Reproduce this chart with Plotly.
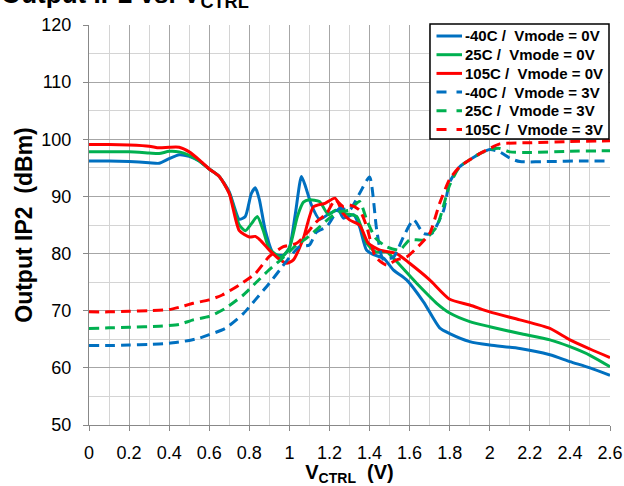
import plotly.graph_objects as go

# ---- data ----
x_b0 = [0, 0.1, 0.2, 0.3, 0.35, 0.4, 0.45, 0.5, 0.55, 0.6, 0.65, 0.7, 0.75, 0.78, 0.81, 0.83, 0.85, 0.88, 0.92, 0.97, 1.0, 1.03, 1.06, 1.08, 1.11, 1.15, 1.2, 1.245, 1.27, 1.32, 1.35, 1.385, 1.42, 1.47, 1.52, 1.585, 1.67, 1.75, 1.8, 1.9, 2.0, 2.15, 2.3, 2.4, 2.5, 2.6]
y_b0 = [96.2, 96.2, 96.1, 95.9, 95.8, 96.6, 97.3, 97.0, 96.2, 94.8, 93.5, 90.8, 86.0, 86.5, 90.5, 91.5, 89.5, 84.0, 80.0, 79.7, 81.0, 87.0, 93.5, 91.8, 88.5, 86.0, 87.0, 87.6, 86.2, 86.8, 84.7, 80.6, 79.8, 79.2, 77.1, 75.4, 71.5, 67.0, 66.0, 64.6, 64.0, 63.4, 62.3, 61.1, 60.0, 58.7]

x_g0 = [0, 0.1, 0.2, 0.3, 0.35, 0.4, 0.45, 0.5, 0.55, 0.6, 0.65, 0.7, 0.75, 0.78, 0.81, 0.84, 0.87, 0.9, 0.96, 1.0, 1.04, 1.07, 1.1, 1.15, 1.195, 1.23, 1.28, 1.336, 1.386, 1.43, 1.485, 1.535, 1.635, 1.735, 1.8, 1.9, 2.0, 2.15, 2.3, 2.4, 2.5, 2.6]
y_g0 = [97.8, 97.8, 97.8, 97.6, 97.5, 97.9, 97.8, 97.2, 96.2, 94.8, 93.5, 90.6, 85.0, 84.0, 85.2, 86.5, 84.0, 80.8, 79.4, 81.0, 86.5, 89.0, 89.4, 89.1, 86.8, 87.6, 87.0, 86.5, 81.8, 80.3, 80.3, 78.6, 74.8, 71.3, 69.6, 68.1, 67.2, 66.0, 64.9, 63.7, 62.2, 60.2]

x_r0 = [0, 0.1, 0.2, 0.3, 0.35, 0.4, 0.45, 0.5, 0.55, 0.6, 0.65, 0.7, 0.75, 0.8, 0.83, 0.853, 0.9, 0.95, 0.986, 1.02, 1.07, 1.12, 1.178, 1.228, 1.269, 1.3, 1.35, 1.394, 1.452, 1.535, 1.6, 1.7, 1.8, 1.9, 2.0, 2.15, 2.3, 2.4, 2.5, 2.6]
y_r0 = [99.1, 99.1, 99.0, 98.8, 98.5, 98.6, 98.6, 97.8, 96.4, 94.8, 93.5, 90.5, 84.0, 82.9, 83.0, 82.4, 80.6, 79.0, 78.3, 78.9, 82.7, 88.2, 88.8, 89.7, 87.0, 85.9, 85.0, 81.8, 80.6, 80.0, 78.3, 75.4, 72.0, 71.0, 69.8, 68.4, 66.9, 64.9, 63.3, 61.8]

x_b3 = [0, 0.1, 0.2, 0.3, 0.4, 0.5, 0.55, 0.6, 0.68, 0.77, 0.83, 0.9, 0.96, 1.0, 1.05, 1.1, 1.136, 1.186, 1.25, 1.3, 1.35, 1.40, 1.436, 1.468, 1.52, 1.57, 1.62, 1.67, 1.71, 1.77, 1.8, 1.85, 1.9, 1.95, 2.0, 2.05, 2.1, 2.15, 2.3, 2.45, 2.6]
y_b3 = [63.9, 63.9, 64.0, 64.1, 64.3, 64.8, 65.2, 65.8, 66.9, 69.5, 71.9, 74.8, 77.5, 79.3, 81.2, 81.5, 83.8, 84.7, 87.9, 87.6, 90.5, 93.4, 84.1, 79.0, 79.4, 83.0, 85.9, 83.5, 83.5, 87.6, 92.5, 95.2, 96.4, 97.5, 98.2, 97.8, 96.7, 96.1, 96.1, 96.2, 96.2]

x_g3 = [0, 0.1, 0.2, 0.35, 0.45, 0.52, 0.6, 0.68, 0.77, 0.83, 0.9, 0.96, 1.036, 1.086, 1.152, 1.2, 1.25, 1.3, 1.35, 1.386, 1.43, 1.485, 1.55, 1.6, 1.67, 1.735, 1.8, 1.85, 1.9, 1.95, 2.0, 2.05, 2.1, 2.2, 2.4, 2.6]
y_g3 = [66.9, 67.0, 67.1, 67.3, 67.6, 68.4, 69.0, 70.4, 72.75, 74.8, 77.2, 79.0, 81.5, 82.7, 84.7, 86.2, 87.3, 87.6, 89.1, 85.9, 82.7, 81.2, 80.6, 82.4, 82.4, 84.7, 92.0, 95.2, 96.4, 97.5, 98.2, 98.4, 97.8, 97.7, 97.9, 98.0]

x_r3 = [0, 0.1, 0.2, 0.3, 0.4, 0.45, 0.52, 0.6, 0.665, 0.75, 0.83, 0.9, 0.97, 1.036, 1.086, 1.136, 1.186, 1.228, 1.27, 1.3, 1.35, 1.386, 1.43, 1.485, 1.535, 1.585, 1.65, 1.7, 1.75, 1.8, 1.85, 1.9, 1.95, 2.0, 2.05, 2.2, 2.4, 2.6]
y_r3 = [69.8, 69.8, 69.9, 70.0, 70.2, 70.6, 71.3, 71.9, 72.75, 74.5, 76.5, 79.5, 81.2, 81.8, 83.5, 85.6, 87.0, 89.4, 88.2, 88.5, 87.6, 84.7, 79.4, 78.0, 78.9, 79.4, 81.5, 83.5, 88.8, 93.0, 95.2, 96.4, 97.5, 98.4, 99.2, 99.4, 99.6, 99.75]

series_names = ["-40C /  Vmode = 0V", "25C /  Vmode = 0V", "105C /  Vmode = 0V",
                "-40C /  Vmode = 3V", "25C /  Vmode = 3V", "105C /  Vmode = 3V"]
x_ticks = [0, 0.2, 0.4, 0.6, 0.8, 1, 1.2, 1.4, 1.6, 1.8, 2, 2.2, 2.4, 2.6]
x_tick_labels = ["0", "0.2", "0.4", "0.6", "0.8", "1", "1.2", "1.4", "1.6", "1.8", "2", "2.2", "2.4", "2.6"]
y_ticks = [50, 60, 70, 80, 90, 100, 110, 120]

BLUE, GREEN, RED = "#0070C0", "#00B050", "#FF0000"
FONT = "Liberation Sans, Arial, sans-serif"
DASH = "10px,6px"

fig = go.Figure()
series = [(x_b0, y_b0, BLUE, "solid"), (x_g0, y_g0, GREEN, "solid"), (x_r0, y_r0, RED, "solid"),
          (x_b3, y_b3, BLUE, DASH), (x_g3, y_g3, GREEN, DASH), (x_r3, y_r3, RED, DASH)]
for (xs, ys, c, d), name in zip(series, series_names):
    fig.add_trace(go.Scatter(x=xs, y=ys, mode="lines", name=name, showlegend=False,
                             line=dict(color=c, width=3, dash=d, shape="spline", smoothing=0.6)))

# ---- legend box (drawn as shapes/annotations to match the compact Excel legend) ----
L, T = 89, 25
PW, PH = 521, 400
def px(xp):
    return (xp - L) / PW
def py(yp):
    return 1 - (yp - T) / PH

fig.add_shape(type="rect", xref="paper", yref="paper",
              x0=px(430), x1=px(609), y0=py(24), y1=py(139),
              line=dict(color="black", width=1.5), fillcolor="white", layer="above")
row0, step = 36.0, 18.7
for i, ((xs, ys, c, d), name) in enumerate(zip(series, series_names)):
    yy = row0 + i * step
    fig.add_shape(type="line", xref="paper", yref="paper",
                  x0=px(436.5), x1=px(462), y0=py(yy), y1=py(yy),
                  line=dict(color=c, width=3, dash="solid" if d == "solid" else "10px,10px"),
                  layer="above")
    fig.add_annotation(text=name, xref="paper", yref="paper", x=px(463), y=py(yy),
                       xanchor="left", yanchor="middle", showarrow=False,
                       font=dict(size=15, family=FONT, weight="bold", color="black"))

fig.update_layout(
    width=624, height=486,
    margin=dict(l=L, r=624 - L - PW, t=T, b=486 - T - PH),
    paper_bgcolor="white", plot_bgcolor="white",
    font=dict(family=FONT, color="black"),
    showlegend=False,
)
fig.update_xaxes(range=[0, 2.6], tickmode="array", tickvals=x_ticks, ticktext=x_tick_labels,
                 tickfont=dict(size=18, color="black"), ticks="outside", ticklen=5, tickcolor="#888",
                 ticklabelstandoff=6,
                 showline=True, linecolor="#888", linewidth=1,
                 showgrid=True, gridcolor="#a6a6a6", gridwidth=1,
                 minor=dict(dtick=0.1, showgrid=True, gridcolor="#d4d4d4", gridwidth=1),
                 zeroline=False, automargin=False,
                 title=dict(text="V<sub>CTRL</sub>  (V)", font=dict(size=20, weight="bold", color="black"), standoff=9))
fig.update_yaxes(range=[50, 120], tickmode="array", tickvals=y_ticks,
                 tickfont=dict(size=18, color="black"), ticks="outside", ticklen=5, tickcolor="#888",
                 ticklabelstandoff=8,
                 showline=True, linecolor="#888", linewidth=1,
                 showgrid=True, gridcolor="#a6a6a6", gridwidth=1,
                 minor=dict(dtick=5, showgrid=True, gridcolor="#d4d4d4", gridwidth=1),
                 zeroline=False, automargin=False,
                 title=dict(text="Output IP2  (dBm)", font=dict(size=23, weight="bold", color="black"), standoff=2))

fig.add_annotation(text="Output IP2 vs. V<sub>CTRL</sub>", xref="paper", yref="paper",
                   x=px(-1), y=py(-5), xanchor="left", yanchor="middle", showarrow=False,
                   font=dict(size=26, family=FONT, weight="bold", color="black"))

fig.write_html("out.html", config={"displayModeBar": False},
               post_script="document.body.style.margin='0';")
